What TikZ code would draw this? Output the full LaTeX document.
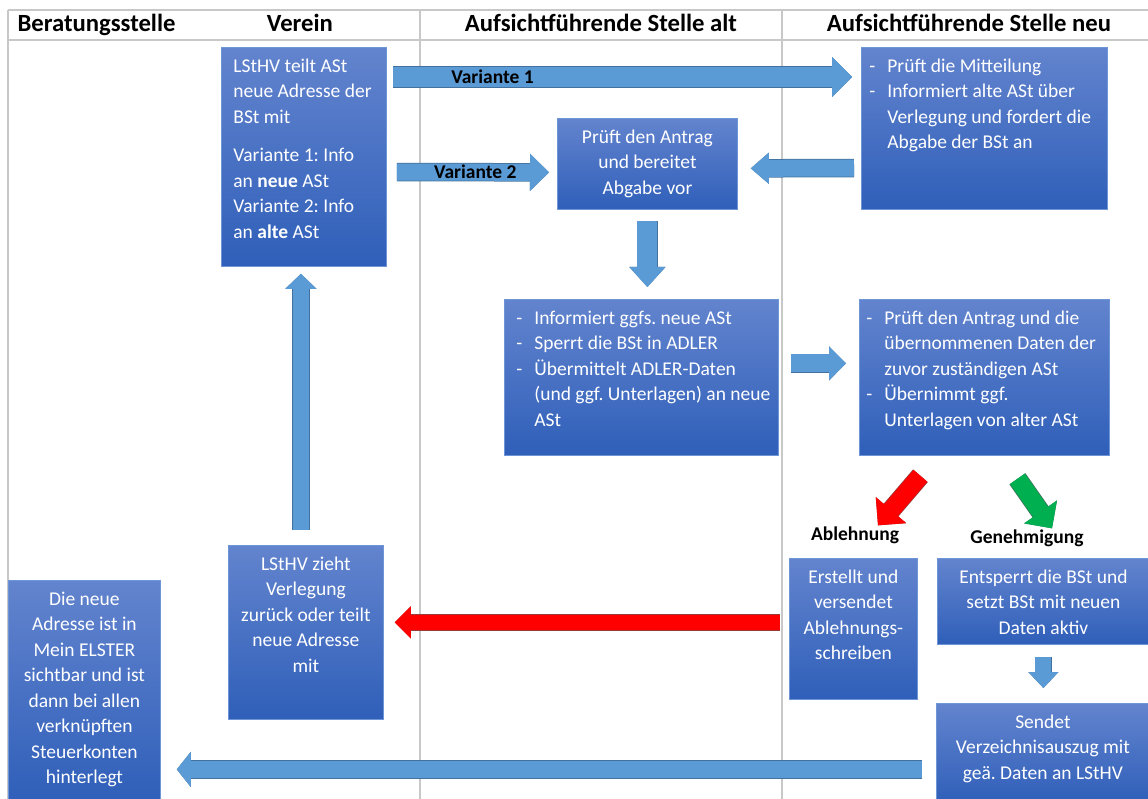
\documentclass[tikz,border=0pt]{standalone}
\usepackage{fontspec}
\setmainfont{Carlito}
\usetikzlibrary{arrows.meta,calc}
\frenchspacing

\definecolor{arrowblue}{RGB}{91,155,213}
\definecolor{arrowedge}{RGB}{65,113,156}
\definecolor{boxtop}{RGB}{99,132,206}
\definecolor{boxbot}{RGB}{47,95,185}
\definecolor{boxedge}{RGB}{110,150,215}
\definecolor{gridgray}{RGB}{200,200,200}
\definecolor{redfill}{RGB}{255,0,0}
\definecolor{rededge}{RGB}{150,60,60}
\definecolor{greenfill}{RGB}{0,176,80}
\definecolor{greenedge}{RGB}{60,110,90}

\newcommand{\inbox}[3]{\parbox[c][#2][t]{#1}{\parindent=0pt\rightskip=-20pt\fontsize{19.5}{25.5}\selectfont #3}}
\newcommand{\dashitem}[1]{\par\noindent\hangindent=18pt\hangafter=1\makebox[18pt][l]{-}#1}
\newcommand{\fl}{\rule{0pt}{25pt}}

\begin{document}
\begin{tikzpicture}[x=1pt,y=-1pt,
	panel/.style={draw=boxedge,line width=0.8pt,top color=boxtop,bottom color=boxbot,text=white,anchor=north west,inner ysep=0pt,inner xsep=#1},
	header/.style={font=\fontsize{24.7}{28}\selectfont\bfseries,text height=17pt,text depth=5pt},
	lbl/.style={font=\fontsize{19.5}{22}\selectfont\bfseries,text=black,inner sep=1pt},
	gridline/.style={draw=gridgray,line width=1.5pt},
	fat/.style args={#1/#2/#3/#4/#5}{draw=#4,line width=#1,-{Triangle[width=#2,length=#3,line width=0pt]},
		preaction={draw=#5,line width=#1+1.5pt,-{Triangle[width=#2,length=#3,line width=1.5pt]}}}]
	\useasboundingbox (0,0) rectangle (1148,799);

	% table
	\draw[gridline] (8,10) -- (1148,10);
	\draw[gridline] (8,40) -- (1148,40);
	\draw[gridline] (8,10) -- (8,799);
	\draw[gridline] (420,10) -- (420,799);
	\draw[gridline] (782,10) -- (782,799);
	\node[header,anchor=west] (hBer) at (14,26) {Beratungsstelle};
	\node[header] (hVer) at (300,26) {Verein};
	\node[header] (hAlt) at (601,26) {Aufsichtführende Stelle alt};
	\node[header] (hNeu) at (969,26) {Aufsichtführende Stelle neu};

	% boxes
	\node[panel=12pt] (mitteilen) at (221,47) {\inbox{141pt}{219pt}{\fl LStHV teilt ASt\\neue Adresse der\\BSt mit\par\vspace{13pt}Variante 1: Info\\an \textbf{neue} ASt\\Variante 2: Info\\an \textbf{alte} ASt}};
	\node[panel=8pt] (altpruef) at (557,118) {\inbox{164pt}{91pt}{\centering\fl Prüft den Antrag\\und bereitet\\Abgabe vor}};
	\node[panel=8pt] (neupruef) at (861,47) {\inbox{230pt}{162pt}{\dashitem{\fl Prüft die Mitteilung}\dashitem{Informiert alte ASt über\\Verlegung und fordert die\\Abgabe der BSt an}}};
	\node[panel=12pt] (altabgabe) at (504,299) {\inbox{250pt}{156pt}{\dashitem{\fl Informiert ggfs. neue ASt}\dashitem{Sperrt die BSt in ADLER}\dashitem{Übermittelt ADLER-Daten\\(und ggf. Unterlagen) an neue\\ASt}}};
	\node[panel=7pt] (neuuebern) at (859,299) {\inbox{236pt}{156pt}{\dashitem{\fl Prüft den Antrag und die\\übernommenen Daten der\\zuvor zuständigen ASt}\dashitem{Übernimmt ggf.\\Unterlagen von alter ASt}}};
	\node[panel=4pt] (ablehn) at (789,558) {\inbox{120pt}{141pt}{\centering\fl Erstellt und\\versendet\\Ablehnungs-\\schreiben}};
	\node[panel=3pt] (entsperrt) at (937,558) {\inbox{206pt}{86pt}{\centering\fl Entsperrt die BSt und\\setzt BSt mit neuen\\Daten aktiv}};
	\node[panel=3pt] (sendet) at (936,703) {\inbox{207pt}{100pt}{\centering\fl Sendet\\Verzeichnisauszug mit\\geä. Daten an LStHV}};
	\node[panel=5pt] (zurueck) at (228,545) {\inbox{145pt}{174pt}{\centering\fl LStHV zieht\\Verlegung\\zurück oder teilt\\neue Adresse\\mit}};
	\node[panel=4pt] (elster) at (8,580) {\inbox{144pt}{222pt}{\centering\fl Die neue\\Adresse ist in\\Mein ELSTER\\sichtbar und ist\\dann bei allen\\verknüpften\\Steuerkonten\\hinterlegt}};
	\node[lbl] (ablLabel) at (855,535) {Ablehnung};
	\node[lbl] (genLabel) at (1027,538) {Genehmigung};

	% arrows
	\draw[fat=20pt/40pt/20pt/arrowblue/arrowedge,shorten <=6pt,shorten >=9pt]
		($(mitteilen.north east)+(0,30)$) -- ($(neupruef.north west)+(0,30)$) node[lbl,pos=0.223] (var1) {Variante 1};
	\draw[fat=17pt/37pt/19pt/arrowblue/arrowedge,shorten <=10pt,shorten >=8pt]
		($(mitteilen.north east)+(0,125)$) -- ($(altpruef.west)+(0,8.5)$) node[lbl,pos=0.52] (var2) {Variante 2};
	\draw[fat=17pt/31pt/18pt/arrowblue/arrowedge,shorten <=7pt,shorten >=13pt]
		($(neupruef.north west)+(0,121)$) -- ($(altpruef.east)+(0,4.5)$);
	\draw[fat=20pt/36pt/20pt/arrowblue/arrowedge,shorten <=11pt,shorten >=12pt]
		(altpruef.south) -- (altpruef.south |- altabgabe.north);
	\draw[fat=18pt/34pt/17pt/arrowblue/arrowedge,shorten <=12pt,shorten >=13pt]
		($(altabgabe.east)+(0,-14)$) -- ($(neuuebern.west)+(0,-14)$);
	\draw[fat=18pt/40pt/20pt/redfill/rededge]
		($(neuuebern.south)+(-64,20)$) -- ($(ablLabel.north)+(23,0)$);
	\draw[fat=18pt/40pt/20pt/greenfill/greenedge]
		($(neuuebern.south)+(33,23)$) -- ($(genLabel.north)+(25,0)$);
	\draw[fat=15pt/32pt/16pt/redfill/rededge,shorten <=9pt,shorten >=11pt]
		($(ablehn.west)+(0,-6.5)$) -- ($(zurueck.east)+(0,-10)$);
	\draw[fat=16pt/31pt/15pt/arrowblue/arrowedge,shorten <=15pt,shorten >=7pt]
		($(zurueck.north)+(-5,0)$) -- ($(mitteilen.south)+(-3,0)$);
	\draw[fat=16pt/30pt/16pt/arrowblue/arrowedge,shorten <=12pt,shorten >=15pt]
		(entsperrt.south) -- (entsperrt.south |- sendet.north);
	\draw[fat=17pt/35pt/14pt/arrowblue/arrowedge,shorten <=14pt,shorten >=16pt]
		($(sendet.west)+(0,16)$) -- ($(elster.east)+(0,78)$);
\end{tikzpicture}
\end{document}
